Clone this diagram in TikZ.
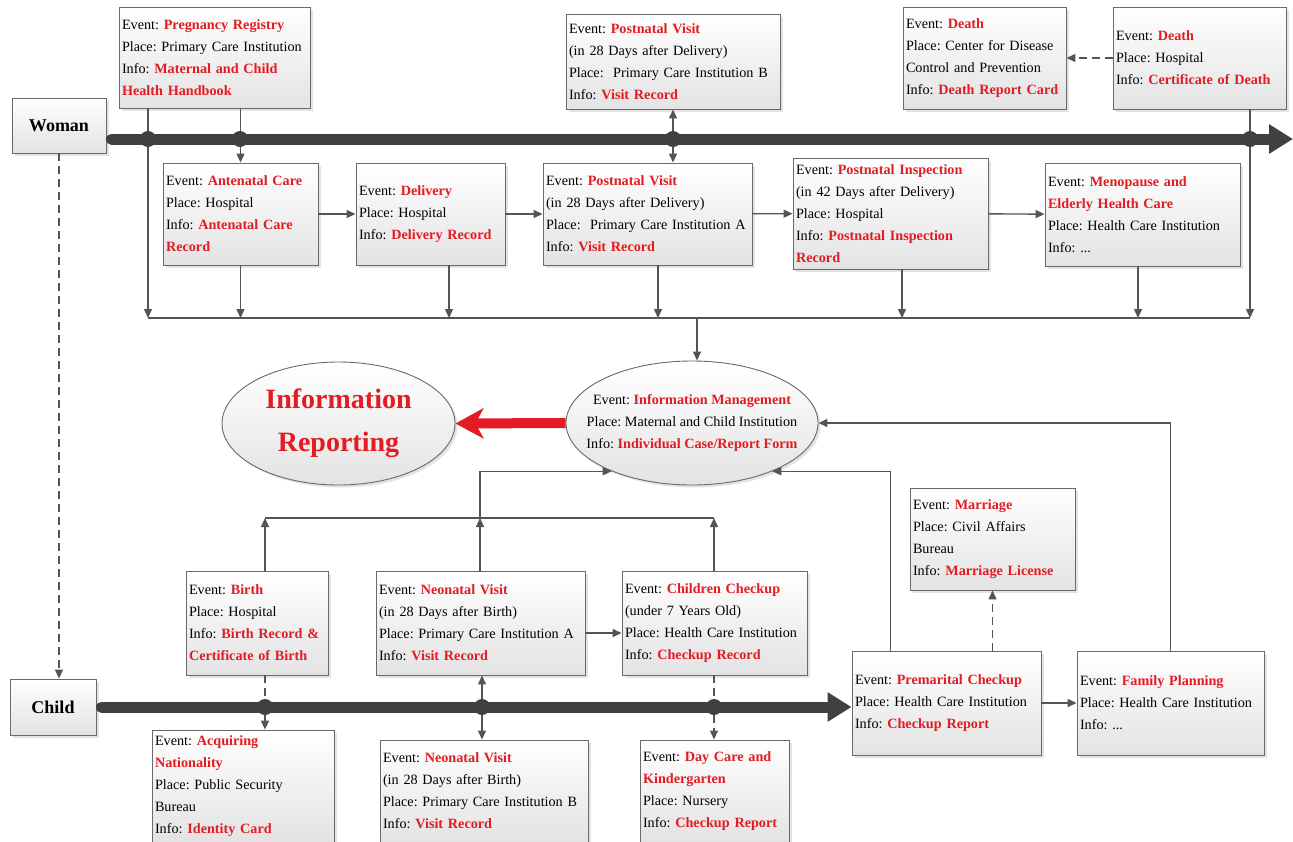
\documentclass[tikz,border=0pt]{standalone}
\usepackage{fontspec}
\setmainfont{Liberation Serif}
\usepackage{tikz}
\usetikzlibrary{shapes.geometric}
\usetikzlibrary{arrows.meta}
\usetikzlibrary{shadows}
\frenchspacing
\hyphenpenalty=10000
\definecolor{evred}{RGB}{226,28,34}
\definecolor{linegray}{RGB}{84,84,84}
\definecolor{bargray}{RGB}{64,64,64}
\definecolor{boxgray}{RGB}{105,105,105}
\newcommand{\rtext}[1]{\textcolor{evred}{\textbf{#1}}}
\tikzstyle{evbox}=[draw=boxgray, line width=0.9pt, top color=white, bottom color=black!11, drop shadow={shadow xshift=2.5pt, shadow yshift=-2.5pt, opacity=0.22}, inner xsep=3pt, inner ysep=0pt, align=left, font={\fontsize{14.2}{22}\selectfont}]
\tikzstyle{person}=[evbox, align=center, font={\fontsize{18}{20}\selectfont\bfseries}]
\tikzstyle{hub}=[evbox, ellipse, align=center]
\tikzstyle{junction}=[circle, fill=bargray, inner sep=0pt, minimum size=16pt]
\tikzstyle{timeline}=[draw=bargray, line width=11pt, line cap=round, -{Triangle[length=24pt,width=28pt]}]
\tikzstyle{flow}=[draw=linegray, line width=1.4pt, -{Triangle[length=9pt,width=8pt]}]
\tikzstyle{link}=[draw=linegray, line width=1.4pt]
\tikzstyle{dlink}=[link, dash pattern=on 8pt off 5pt]
\tikzstyle{dflow}=[flow, dash pattern=on 8pt off 5pt]
\tikzstyle{report}=[draw=evred, line width=10pt, -{Stealth[length=28pt,width=30pt,inset=8pt]}]

\begin{document}
\begin{tikzpicture}[x=1pt, y=-1pt]
        \useasboundingbox (0,0) rectangle (1293,841);
        \node[person, minimum width=94pt, minimum height=55pt] (woman) at (59,125.5) {Woman};
        \node[person, minimum width=86pt, minimum height=56pt] (child) at (53,707) {Child};

        \node[evbox, text width=185pt, minimum height=101pt] (preg) at (214.5,57.5) {Event: \rtext{Pregnancy Registry}\\Place: Primary Care Institution\\Info: \rtext{Maternal and Child}\\\rtext{Health Handbook}};
        \node[evbox, text width=208pt, minimum height=95pt] (pvB) at (673,61.5) {Event: \rtext{Postnatal Visit}\\(in 28 Days after Delivery)\\Place:~ Primary Care Institution B\\Info: \rtext{Visit Record}};
        \node[evbox, text width=157pt, minimum height=102pt] (dcdc) at (984.5,58) {Event: \rtext{Death}\\Place: Center for Disease\\Control and Prevention\\Info: \rtext{Death Report Card}};
        \node[evbox, text width=167pt, minimum height=102pt] (dh) at (1199.5,58) {Event: \rtext{Death}\\Place: Hospital\\Info: \rtext{Certificate of Death}};

        \node[evbox, text width=149pt, minimum height=102pt] (ante) at (240.5,214) {Event: \rtext{Antenatal Care}\\Place: Hospital\\Info: \rtext{Antenatal Care}\\\rtext{Record}};
        \node[evbox, text width=143pt, minimum height=102pt] (deliv) at (430.5,214) {Event: \rtext{Delivery}\\Place: Hospital\\Info: \rtext{Delivery Record}};
        \node[evbox, text width=203pt, minimum height=102pt] (pvA) at (647.5,214) {Event: \rtext{Postnatal Visit}\\(in 28 Days after Delivery)\\Place:~ Primary Care Institution A\\Info: \rtext{Visit Record}};
        \node[evbox, text width=189pt, minimum height=111pt] (insp) at (890.5,213.5) {Event: \rtext{Postnatal Inspection}\\(in 42 Days after Delivery)\\Place: Hospital\\Info: \rtext{Postnatal Inspection}\\\rtext{Record}};
        \node[evbox, text width=189pt, minimum height=103pt] (meno) at (1142.5,214.5) {Event: \rtext{Menopause and}\\\rtext{Elderly Health Care}\\Place: Health Care Institution\\Info: ...};

        \node[hub, inner xsep=-30pt, inner ysep=-10pt, minimum width=252pt, minimum height=124pt] (im) at (692,423) {Event: \rtext{Information Management}\\Place: Maternal and Child Institution\\Info: \rtext{Individual Case/Report Form}};
        \node[hub, inner sep=0pt, minimum width=233pt, minimum height=123pt, text=evred, font={\fontsize{28}{43}\selectfont\bfseries}] (ir) at (338.5,423.5) {Information\\Reporting};

        \node[evbox, text width=159pt, minimum height=102pt] (mar) at (992.5,539) {Event: \rtext{Marriage}\\Place: Civil Affairs\\Bureau\\Info: \rtext{Marriage License}};
        \node[evbox, text width=136pt, minimum height=104pt] (birth) at (257,623) {Event: \rtext{Birth}\\Place: Hospital\\Info: \rtext{Birth Record \&}\\\rtext{Certificate of Birth}};
        \node[evbox, text width=203pt, minimum height=104pt] (neoA) at (480.5,623) {Event: \rtext{Neonatal Visit}\\(in 28 Days after Birth)\\Place: Primary Care Institution A\\Info: \rtext{Visit Record}};
        \node[evbox, text width=179pt, minimum height=104pt] (chk) at (714.5,623) {Event: \rtext{Children Checkup}\\(under 7 Years Old)\\Place: Health Care Institution\\Info: \rtext{Checkup Record}};
        \node[evbox, text width=183pt, minimum height=104pt] (pm) at (946.5,703) {Event: \rtext{Premarital Checkup}\\Place: Health Care Institution\\Info: \rtext{Checkup Report}};
        \node[evbox, text width=181pt, minimum height=104pt] (fp) at (1170.5,703) {Event: \rtext{Family Planning}\\Place: Health Care Institution\\Info: ...};
        \node[evbox, text width=176pt, minimum height=112pt] (acq) at (243,786) {Event: \rtext{Acquiring}\\\rtext{Nationality}\\Place: Public Security\\Bureau\\Info: \rtext{Identity Card}};
        \node[evbox, text width=202pt, minimum height=102pt] (neoB) at (484,791) {Event: \rtext{Neonatal Visit}\\(in 28 Days after Birth)\\Place: Primary Care Institution B\\Info: \rtext{Visit Record}};
        \node[evbox, text width=143pt, minimum height=102pt] (dc) at (714.5,791) {Event: \rtext{Day Care and}\\\rtext{Kindergarten}\\Place: Nursery\\Info: \rtext{Checkup Report}};

        \coordinate (wtip) at (1293,139);
        \coordinate (b1) at (148,318);
        \coordinate (b3) at (449,318);
        \coordinate (b4) at (658,318);
        \coordinate (b5) at (902,318);
        \coordinate (b6) at (1138,318);
        \coordinate (b7) at (1250,318);
        \coordinate (bm) at (697,318);
        \coordinate (k1) at (265,518);
        \coordinate (k2) at (480,518);
        \coordinate (k3) at (714,518);

        \draw[flow] (preg.south -| b1) -- (b1);
        \draw[flow] (preg.south -| ante.north) -- (ante.north);
        \draw[flow] (dh.south -| b7) -- (b7);
        \draw[dflow] (dh.west) -- (dcdc.east);
        \draw[flow] (ante) -- (deliv);
        \draw[flow] (deliv) -- (pvA);
        \draw[flow] (pvA) -- (insp);
        \draw[flow] (insp) -- (meno);
        \draw[flow] (ante.south) -- (ante.south |- b1);
        \draw[flow] (deliv.south -| b3) -- (b3);
        \draw[flow] (pvA.south -| b4) -- (b4);
        \draw[flow] (insp.south -| b5) -- (b5);
        \draw[flow] (meno.south -| b6) -- (b6);
        \draw[link] (b1) -- (b7);
        \draw[flow] (bm) -- (bm |- im.north);
        \draw[report] (im.west) -- (ir.east);

        \draw[link] (k1) -- (k3);
        \draw[flow] (birth.north -| k1) -- (k1);
        \draw[flow] (neoA.north -| k2) -- (k2);
        \draw[flow] (chk.north -| k3) -- (k3);
        \draw[flow] (k2) |- (im.211);
        \draw[flow] ([xshift=-56pt]pm.north) |- (im.-31);
        \draw[flow] (fp.north) |- (im.east);
        \draw[dflow] (pm.north -| mar.south) -- (mar.south);
        \draw[flow] ([yshift=-10pt]neoA.east) -- ([yshift=-10pt]chk.west);
        \draw[flow] (pm) -- (fp);
        \draw[dflow] (woman.south) -- (woman.south |- child.north);

        \draw[timeline] ([xshift=5pt]woman.east |- wtip) -- (wtip);
        \draw[timeline] ([xshift=5pt]child.east) -- (child.east -| pm.west);
        \node[junction] (w1) at (148,139) {};
        \node[junction] (w2) at (240,139) {};
        \node[junction] (w3) at (673,139) {};
        \node[junction] (w4) at (1250,139) {};
        \node[junction] (c1) at (265,707) {};
        \node[junction] (c2) at (482,707) {};
        \node[junction] (c3) at (714,707) {};

        \draw[flow] (w3) -- (pvB.south);
        \draw[flow] (w3) -- (pvA.north -| w3);
        \draw[dlink] (birth.south -| c1) -- (c1);
        \draw[dflow] (c1) -- (acq.north -| c1);
        \draw[flow] (c2) -- (neoA.south -| c2);
        \draw[flow] (c2) -- (neoB.north -| c2);
        \draw[dlink] (chk.south -| c3) -- (c3);
        \draw[dflow] (c3) -- (dc.north -| c3);
    \end{tikzpicture}
\end{document}
